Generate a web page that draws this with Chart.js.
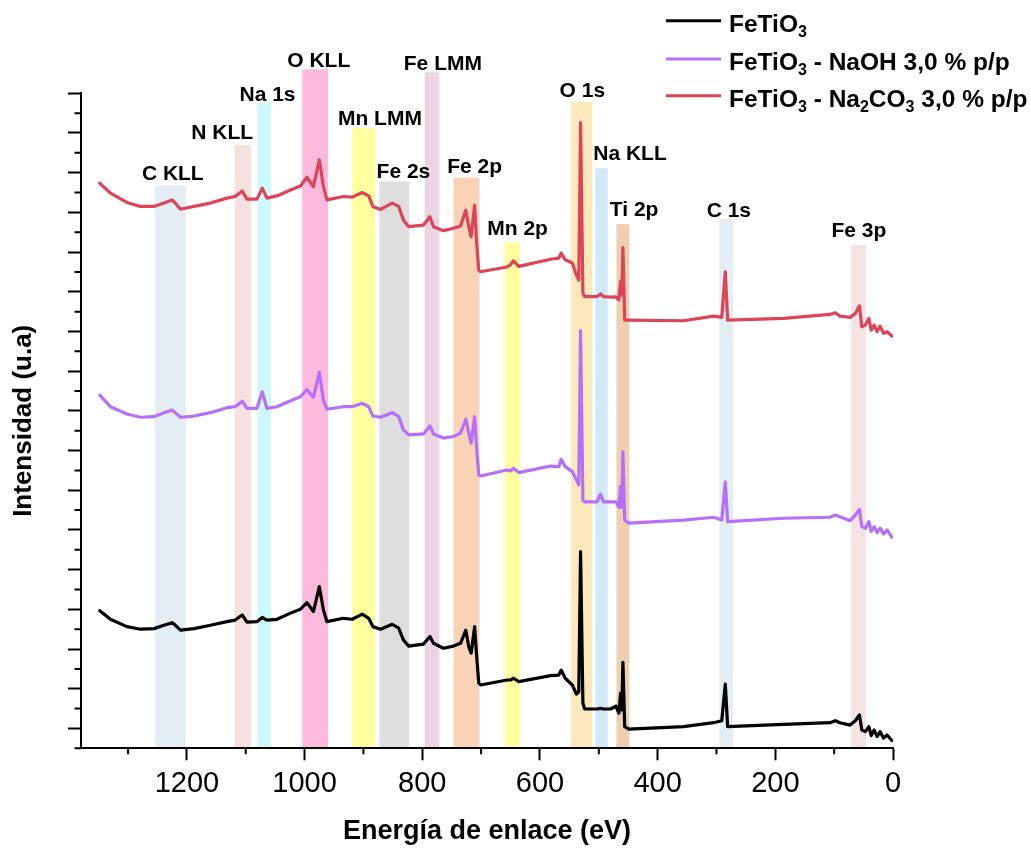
<!DOCTYPE html>
<html>
<head>
<meta charset="utf-8">
<script src="https://cdn.jsdelivr.net/npm/chart.js@4.4.1/dist/chart.umd.min.js"></script>
<style>
  html, body { margin: 0; padding: 0; background: #fff; }
  #wrap { position: relative; width: 1031px; height: 848px; }
</style>
</head>
<body>
<div id="wrap"><canvas id="xpsChart"></canvas></div>
<script>
// binding energy (eV), shared by the three spectra
const energy = [1348,1330,1302,1279,1256,1239,1225,1220,1211,1188,1160,1132,1118,1106,1098,1081,1072,1064,1047,1024,
  1007,996,985,975,968,962,934,919,902,891,884,871,851,840,832,823,798,787,781,764,
  747,735,726,721,717,711,708,704,701,656,650,645,636,582,568,564,557,545,538,534,
  531,527,524,503,497,492,480,471,466,463,461,459,456,449,356,305,291,285,281,186,
  107,98,90,73,64,57,53,47,41,37,32,27,22,16,10,2];

const fetio3 = [6.93,6.50,6.13,6.00,6.03,6.20,6.33,6.21,5.95,6.03,6.20,6.38,6.46,6.72,6.36,6.38,6.59,6.46,6.50,6.81,
  7.01,7.34,6.89,8.15,6.97,6.38,6.55,6.50,6.76,6.55,6.13,6.00,6.25,6.05,5.45,5.15,5.25,5.63,5.29,5.04,
  5.15,5.29,5.95,5.12,4.79,6.13,4.79,3.28,3.19,3.44,3.44,3.53,3.36,3.66,3.69,3.94,3.53,3.19,2.73,2.85,
  9.91,2.27,1.98,1.98,2.01,1.98,1.98,2.13,1.77,2.77,1.93,4.33,1.09,0.97,1.09,1.29,1.39,3.23,1.09,1.21,
  1.29,1.39,1.29,1.17,1.39,1.68,0.92,0.84,1.09,0.64,0.92,0.59,0.84,0.51,0.67,0.39];

const fetio3Naoh = [17.79,17.21,16.84,16.68,16.71,16.91,17.04,16.91,16.68,16.74,16.91,17.16,17.21,17.49,17.13,17.13,17.96,17.13,17.21,17.51,
  17.71,18.08,17.68,18.95,17.54,17.08,17.21,17.21,17.38,17.21,16.74,16.68,16.91,16.71,16.04,15.79,15.84,16.24,15.84,15.63,
  15.71,15.88,16.58,15.88,15.38,16.71,15.29,13.77,13.72,14.02,13.97,14.11,13.89,14.22,14.19,14.56,14.19,13.94,13.52,13.27,
  21.05,12.50,12.42,12.42,12.80,12.42,12.42,12.42,12.14,13.19,12.14,14.94,11.50,11.34,11.50,11.64,11.50,13.41,11.42,11.59,
  11.64,11.75,11.67,11.47,11.75,12.04,11.17,11.09,11.42,10.92,11.17,10.87,11.09,10.80,11.00,10.64];

const fetio3Na2co3 = [28.47,27.97,27.50,27.30,27.30,27.47,27.63,27.47,27.16,27.30,27.47,27.72,27.80,28.08,27.67,27.67,28.22,27.72,27.83,28.13,
  28.33,28.77,28.30,29.65,28.30,27.63,27.80,27.77,28.00,27.83,27.30,27.15,27.47,27.30,26.61,26.28,26.36,26.78,26.28,26.08,
  26.20,26.31,27.11,26.28,25.78,27.35,25.61,24.09,24.01,24.25,24.36,24.56,24.28,24.64,24.70,24.95,24.61,24.45,23.84,23.59,
  31.52,22.93,22.76,22.76,22.89,22.76,22.73,22.74,22.59,23.51,22.84,25.23,21.57,21.57,21.54,21.77,21.71,24.01,21.57,21.66,
  21.86,21.94,21.77,21.71,21.91,22.29,21.24,21.32,21.66,21.07,21.32,20.99,21.27,20.91,20.99,20.77];

// shaded peak regions: names, energy range, top (intensity units), label anchor
const bandNames   = ['C KLL','N KLL','Na 1s','O KLL','Mn LMM','Fe 2s','Fe LMM','Fe 2p','Mn 2p','O 1s','Na KLL','Ti 2p','C 1s','Fe 3p'];
const bandFrom    = [1254,1119,1080,1004,919,873,796,747,660,547,506,470,295,71];
const bandTo      = [1202,1091,1057,960,880,822,771,703,634,511,485,448,272,46];
const bandTop     = [28.34,30.39,32.52,34.21,31.25,28.56,34.06,28.75,25.49,32.57,29.23,26.41,26.66,25.36];
const bandLabelAt = [1224,1140,1063,976,872,832,765,711,638,528,447,440,279,58];
const bandLabelY  = [28.63,30.70,32.62,34.34,31.40,28.72,34.17,29.00,25.86,32.83,29.64,26.83,26.75,25.74];
const bandColors  = ['#e4ecf4','#f6e1e1','#cdfafa','#fdbadc','#fffe9f','#dedede','#e9d6e0','#fbd4b8','#ffff9f','#fce9bb','#d0eafa','#efcfb2','#e4ecf4','#f6e3e3'];

const seriesNames = ['FeTiO3', 'FeTiO3 - NaOH 3,0 % p/p', 'FeTiO3 - Na2CO3 3,0 % p/p'];
// same names split in normal / subscript runs for the legend
const legendRuns = [
  [['FeTiO', 0], ['3', 1]],
  [['FeTiO', 0], ['3', 1], [' - NaOH 3,0 % p/p', 0]],
  [['FeTiO', 0], ['3', 1], [' - Na', 0], ['2', 1], ['CO', 0], ['3', 1], [' 3,0 % p/p', 0]]
];
const seriesColors = ['#000000', '#b56ffb', '#de4457'];

const FONT = '"Liberation Sans", Arial, Helvetica, sans-serif';
Chart.defaults.font.family = FONT;
Chart.defaults.color = '#000';

function toPoints(vals) {
  return energy.map((e, i) => ({ x: e, y: vals[i] }));
}

const bandsPlugin = {
  id: 'bands',
  beforeDraw(chart) {
    const { ctx, scales: { x, y } } = chart;
    const yBot = y.getPixelForValue(0);
    ctx.save();
    bandNames.forEach((name, i) => {
      const x1 = x.getPixelForValue(bandFrom[i]);
      const x2 = x.getPixelForValue(bandTo[i]);
      const yTop = y.getPixelForValue(bandTop[i]);
      ctx.fillStyle = bandColors[i];
      ctx.fillRect(Math.min(x1, x2), yTop, Math.abs(x2 - x1), yBot - yTop);
    });
    ctx.fillStyle = '#000';
    ctx.font = 'bold 21px ' + FONT;
    ctx.textAlign = 'center';
    ctx.textBaseline = 'alphabetic';
    bandNames.forEach((name, i) => {
      ctx.fillText(name, x.getPixelForValue(bandLabelAt[i]), y.getPixelForValue(bandLabelY[i]));
    });
    ctx.restore();
  }
};

const minorTicksPlugin = {
  id: 'minorTicks',
  afterDraw(chart) {
    const { ctx, scales: { x, y } } = chart;
    ctx.save();
    ctx.strokeStyle = '#000';
    ctx.lineWidth = 2;
    ctx.beginPath();
    x.ticks.forEach(t => {
      if (t.value % 200 !== 0) {
        const px = x.getPixelForValue(t.value);
        ctx.moveTo(px, x.top);
        ctx.lineTo(px, x.top + 6);
      }
    });
    y.ticks.forEach(t => {
      if (t.value % 2 === 0) {
        const py = y.getPixelForValue(t.value);
        ctx.moveTo(y.right - 6.5, py);
        ctx.lineTo(y.right, py);
      }
    });
    ctx.stroke();
    ctx.restore();
  }
};

const legendPlugin = {
  id: 'subLegend',
  afterDraw(chart) {
    const ctx = chart.ctx;
    const rows = [20.7, 59, 95.7];
    ctx.save();
    legendRuns.forEach((runs, i) => {
      const yy = rows[i];
      ctx.strokeStyle = seriesColors[i];
      ctx.lineWidth = 3;
      ctx.beginPath();
      ctx.moveTo(666, yy);
      ctx.lineTo(721, yy);
      ctx.stroke();
      let tx = 729;
      ctx.fillStyle = '#000';
      ctx.textAlign = 'left';
      ctx.textBaseline = 'alphabetic';
      runs.forEach(([txt, sub]) => {
        ctx.font = sub ? 'bold 16px ' + FONT : 'bold 24.5px ' + FONT;
        ctx.fillText(txt, tx, yy + 11 + (sub ? 5 : 0));
        tx += ctx.measureText(txt).width;
      });
    });
    ctx.restore();
  }
};

new Chart(document.getElementById('xpsChart'), {
  type: 'line',
  data: {
    datasets: [fetio3, fetio3Naoh, fetio3Na2co3].map((vals, i) => ({
      label: seriesNames[i],
      data: toPoints(vals),
      borderColor: seriesColors[i],
      backgroundColor: seriesColors[i],
      borderWidth: 3.2,
      pointRadius: 0,
      tension: 0,
      borderJoinStyle: 'round',
      borderCapStyle: 'round',
      fill: false
    }))
  },
  options: {
    responsive: true,
    maintainAspectRatio: false,
    animation: false,
    layout: { padding: { top: 93.3, right: 138, left: 0, bottom: 0 } },
    plugins: {
      legend: { display: false },
      tooltip: { enabled: false }
    },
    scales: {
      x: {
        type: 'linear',
        reverse: true,
        min: 0,
        max: 1380,
        afterFit(scale) { scale.height = 99.7; },
        border: { display: true, color: '#000', width: 2 },
        grid: {
          display: true,
          drawOnChartArea: false,
          drawTicks: true,
          tickLength: 12,
          tickWidth: 2,
          tickColor: c => (c.tick && c.tick.value % 200 === 0) ? '#000' : 'rgba(0,0,0,0)'
        },
        ticks: {
          stepSize: 100,
          includeBounds: false,
          autoSkip: false,
          maxRotation: 0,
          padding: 6,
          font: { size: 29 },
          color: '#000',
          callback: v => (v % 200 === 0 ? v : '')
        },
        title: {
          display: true,
          text: 'Energía de enlace (eV)',
          font: { size: 27, weight: 'bold' },
          color: '#000',
          padding: { top: 0, bottom: 0 }
        }
      },
      y: {
        type: 'linear',
        min: 0,
        max: 33,
        afterFit(scale) { scale.width = 81; },
        border: { display: true, color: '#000', width: 2 },
        grid: {
          display: true,
          drawOnChartArea: false,
          drawTicks: true,
          tickLength: 13,
          tickWidth: 2,
          tickColor: c => (c.tick && c.tick.value % 2 === 1) ? '#000' : 'rgba(0,0,0,0)'
        },
        ticks: { stepSize: 1, display: false },
        title: {
          display: true,
          text: 'Intensidad (u.a)',
          font: { size: 26, weight: 'bold' },
          color: '#000',
          padding: { top: 8, bottom: 0 }
        }
      }
    }
  },
  plugins: [bandsPlugin, minorTicksPlugin, legendPlugin]
});
</script>
</body>
</html>
